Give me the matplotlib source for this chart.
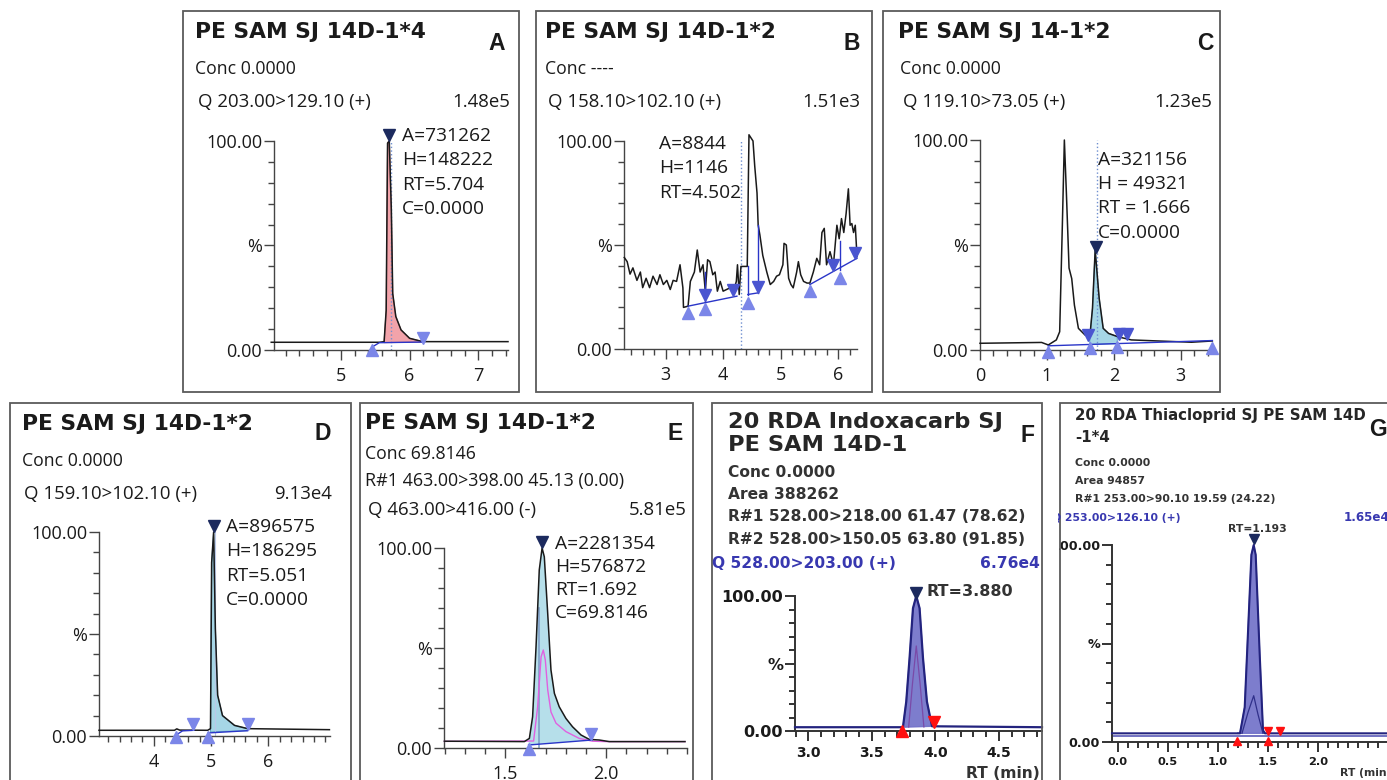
import numpy as np
import matplotlib
matplotlib.use("Agg")
import matplotlib.pyplot as plt
from matplotlib.patches import Rectangle
from matplotlib.transforms import Bbox, TransformedBbox

# ---------------- data ----------------
# Panel A
a_rt = [3.99, 5.56, 5.63, 5.66, 5.68, 5.705, 5.735, 5.755, 5.80, 5.876, 6.0, 6.19, 7.43]
a_pct = [3.7, 3.7, 4.0, 19, 99, 100, 67, 27, 16, 9.6, 5.6, 4.0, 4.0]
a_base_rt = [5.46, 5.56, 6.19]
a_base_pct = [1.5, 3.5, 3.8]
a_up = ([5.46], [0.0])
a_down = ([6.19], [5.6])
a_apex = ([5.705], [103])
a_rtline = 5.735
a_fill = (5.63, 6.19)

# Panel B
b_rt = [2.28, 2.33, 2.38, 2.43, 2.50, 2.56, 2.60, 2.66, 2.72, 2.78, 2.85, 2.90, 2.96, 3.02, 3.08, 3.13,
        3.19, 3.25, 3.30, 3.31, 3.39, 3.43, 3.50, 3.55, 3.60, 3.65, 3.69, 3.73, 3.77, 3.82, 3.86, 3.90,
        3.95, 4.00, 4.06, 4.12, 4.18, 4.23, 4.25, 4.28, 4.31, 4.42, 4.45, 4.52, 4.55, 4.59, 4.61, 4.64,
        4.69, 4.76, 4.82, 4.88, 4.93, 4.98, 5.04, 5.06, 5.10, 5.14, 5.18, 5.22, 5.28, 5.31, 5.35, 5.40,
        5.46, 5.51, 5.57, 5.63, 5.68, 5.72, 5.76, 5.80, 5.86, 5.92, 5.98, 6.02, 6.06, 6.10, 6.14, 6.18,
        6.21, 6.24, 6.27, 6.30, 6.33]
b_pct = [44, 42, 36, 39, 33, 37, 29.5, 34, 29.5, 35, 31, 35.7, 31, 33, 28.6, 33,
         32.5, 40.5, 29.4, 20, 20.6, 32.5, 37, 47.6, 37, 40.5, 27.8, 42.9, 42, 35.7, 37, 27.8,
         32.5, 27.8, 28.6, 29.4, 27.8, 32.5, 40.5, 26.2, 39.7, 39.7, 103, 100, 88, 75, 59.5, 54.8,
         45, 37, 31, 32.5, 35, 35.7, 40.5, 50.8, 50, 34, 31, 29.4, 37, 42, 35.7, 32.5,
         31.7, 31.7, 37, 43.6, 40.5, 56, 58, 40.5, 46.8, 40.5, 59.5, 53, 62.7, 56, 65, 77,
         59.5, 60.3, 56, 59.5, 44.4]
b_base_segs = [([3.39, 4.24], [20.6, 25.4]), ([4.43, 4.61], [26.2, 27.0]), ([5.51, 6.33], [31.0, 43.6])]
b_drops = [(3.69, 22.5, 37.0), (4.43, 26.2, 40.0), (4.61, 27.0, 59.5), (6.03, 38.0, 52.0)]
b_up = ([3.39, 3.69, 4.43, 5.51, 6.03], [17.5, 19, 22, 28, 34])
b_down = ([3.69, 4.18, 4.61, 5.92, 6.30], [26, 28.5, 30, 40.5, 46])
b_rtline = 4.31

# Panel C
c_rt = [0.0, 0.92, 1.02, 1.14, 1.19, 1.23, 1.26, 1.29, 1.33, 1.37, 1.41, 1.47, 1.57, 1.64, 1.68,
        1.72, 1.78, 1.84, 1.92, 2.06, 2.26, 2.66, 3.16, 3.47]
c_pct = [3.2, 3.6, 2.4, 4.8, 8.7, 59.5, 100, 75, 39, 34, 21.4, 10.3, 7.1, 6.3, 19.8,
         47.6, 24.6, 10.3, 7.9, 6.3, 4.8, 4.3, 3.7, 4.3]
c_base_rt = [1.02, 3.47]
c_base_pct = [2.0, 4.5]
c_up = ([1.02, 1.64, 2.05, 3.47], [-1, 1, 1.5, 1])
c_down = ([1.62, 2.07, 2.19], [7, 7.5, 7.5])
c_apex = ([1.73], [49])
c_rtline = 1.745
c_fill = (1.64, 2.05)

# Panel D
d_rt = [3.04, 4.36, 4.40, 4.45, 4.94, 4.99, 5.01, 5.045, 5.075, 5.115, 5.20, 5.41, 5.64, 7.07]
d_pct = [2.8, 2.8, 3.5, 2.9, 2.8, 3.6, 85, 100, 52.6, 20, 10, 5.2, 3.6, 3.1]
d_base_segs = [([4.39, 4.50, 4.70], [0.5, 2.5, 2.8]), ([4.95, 5.64], [1.5, 2.6])]
d_up = ([4.39, 4.95], [-0.5, -0.5])
d_down = ([4.68, 5.64], [6, 6])
d_apex = ([5.045], [103])
d_rtline = 5.07
d_fill = (4.99, 5.64)

# Panel E
e_rt = [1.198, 1.594, 1.619, 1.635, 1.652, 1.668, 1.682, 1.693, 1.71, 1.726, 1.743, 1.767, 1.80,
        1.833, 1.875, 1.916, 1.965, 2.015, 2.16, 2.39]
e_pct = [3.4, 3.2, 4.8, 15.6, 50.6, 89, 100, 95.6, 67, 39, 27.3, 20.6, 14.8, 10.6, 6.5, 4.3, 4.0,
         3.2, 3.2, 3.2]
em_rt = [1.198, 1.64, 1.66, 1.677, 1.688, 1.698, 1.71, 1.726, 1.751, 1.80, 1.866, 1.932, 2.0, 2.39]
em_pct = [3.3, 3.5, 20.6, 45.6, 49, 44, 29, 18, 12.4, 8.2, 4.8, 3.4, 3.2, 3.2]
e_base_rt = [1.615, 1.93]
e_base_pct = [1.5, 4.0]
e_up = ([1.615], [-0.5])
e_down = ([1.924], [7])
e_apex = ([1.683], [103])
e_rtline = 1.668
e_fill = (1.615, 1.93)

# Panel F
f_rt = [2.895, 3.745, 3.771, 3.797, 3.824, 3.85, 3.876, 3.903, 3.934, 3.974, 4.84]
f_pct = [2.8, 2.8, 21.7, 53.8, 90.9, 100, 90.9, 53.8, 21.7, 3.5, 2.8]
fi_rt = [3.79, 3.82, 3.85, 3.88, 3.91]
fi_pct = [3, 35, 63, 35, 3]
f_up = ([3.737], [0.3])
f_down = ([3.99], [6.5])
f_apex = ([3.85], [102])

# Panel G
g_rt = [-0.06, 1.19, 1.22, 1.267, 1.334, 1.357, 1.377, 1.417, 1.45, 1.47, 2.9]
g_pct = [4.4, 4.4, 4.4, 17.6, 95, 100, 95, 44.5, 5.9, 4.4, 4.4]
g_base2 = ([-0.06, 2.9], [3.0, 3.0])
gi_rt = [1.24, 1.30, 1.357, 1.40, 1.45]
gi_pct = [4.4, 15, 23.5, 14, 4.4]
g_up = ([1.185, 1.495], [0.5, 0.5])
g_down = ([1.495, 1.62], [5.5, 5.5])
g_apex = ([1.357], [103])

# ---------------- figure ----------------
W, H = 1387, 780
fig = plt.figure(figsize=(W / 100, H / 100), dpi=100)
fig.patch.set_facecolor("white")

TXT = "#1a1a1a"
OS = "Open Sans"
DV = "DejaVu Sans"
LIGHT = "#7b86e8"
MIDB = "#4a55d0"
NAVY = "#1c2a5e"
BASE = "#2a35c8"
LBFILL = "#a6d6e6"


def clipbox(x0, y0, x1, y1):
    bb = Bbox([[x0 / W, 1 - y1 / H], [x1 / W, 1 - y0 / H]])
    return TransformedBbox(bb, fig.transFigure)


def T(x, y, s, size, weight="normal", ha="left", color=TXT, family=OS, clip=None):
    t = fig.text(x / W, 1 - (y + 0.5 * size) / H, s, fontsize=size, fontweight=weight,
                 ha=ha, va="baseline", color=color, family=family)
    if clip is not None:
        t.set_clip_box(clipbox(*clip))
        t.set_clip_on(True)
    return t


def box(l, t, r, b):
    fig.add_artist(Rectangle((l / W, 1 - b / H), (r - l) / W, (b - t) / H, transform=fig.transFigure,
                             fill=False, ec="#5a5a5a", lw=1.3))


def make_axes(pl, pr, py0, py100, xlim, major, minor, xlabels, xfont, yfont, xpad=5, ypad=1.5,
              tw=1.0, tc="#444444"):
    ax = fig.add_axes([pl / W, 1 - py0 / H, (pr - pl) / W, (py0 - py100) / H])
    ax.set_xlim(*xlim)
    ax.set_ylim(0, 100)
    ax.patch.set_alpha(0)
    for s in ("top", "right"):
        ax.spines[s].set_visible(False)
    for s in ("left", "bottom"):
        ax.spines[s].set_color(tc)
        ax.spines[s].set_linewidth(tw)
    ax.set_xticks(major)
    ax.set_xticklabels(xlabels, **xfont)
    ax.set_xticks(minor, minor=True)
    ax.set_yticks([0, 50, 100])
    ax.set_yticklabels(["0.00", "%", "100.00"], **yfont)
    ax.set_yticks(np.arange(10, 100, 10), minor=True)
    ax.tick_params(axis="x", which="major", length=7, width=tw, color=tc, pad=xpad, labelcolor=TXT)
    ax.tick_params(axis="x", which="minor", length=4, width=tw, color=tc)
    ax.tick_params(axis="y", which="major", length=7, width=tw, color=tc, pad=ypad, labelcolor=TXT)
    ax.tick_params(axis="y", which="minor", length=4, width=tw, color=tc)
    return ax


def mk(ax, pts, marker, color, ms=9):
    ax.plot(pts[0], pts[1], marker=marker, ls="none", ms=ms, color=color, mec=color, clip_on=False,
            zorder=6)


def trace(ax, x, y, color, lw, z=3):
    ax.plot(x, y, color=color, lw=lw, zorder=z, clip_on=False)


def peak_fill(ax, rt, pct, rng, base_rt, base_pct, color, ec=None):
    rt = np.asarray(rt)
    pct = np.asarray(pct)
    m = (rt >= rng[0]) & (rt <= rng[1])
    xs = np.concatenate([[rng[0]], rt[m], [rng[1]]])
    ys = np.concatenate([[np.interp(rng[0], rt, pct)], pct[m], [np.interp(rng[1], rt, pct)]])
    bx = [rng[1], rng[0]]
    by = [np.interp(rng[1], base_rt, base_pct), np.interp(rng[0], base_rt, base_pct)]
    ax.fill(np.concatenate([xs, bx]), np.concatenate([ys, by]), color=color, ec=ec, lw=0.8,
            zorder=1, clip_on=False)


fxA = dict(family=OS, fontsize=13)
fyA = dict(family=OS, fontsize=13)
TS = 15.7      # panel title size
IS = 12.7      # info line size
QS = 13.4      # Q line size
NS = 13.8      # annotation size
LS = 16.5      # panel letter size

# ---------------- Panel A ----------------
box(183, 11, 519, 392)
T(195, 30, "PE SAM SJ 14D-1*4", TS, "bold", family=DV)
T(497, 42, "A", LS, "bold", ha="center", family="Liberation Sans")
T(195, 68, "Conc 0.0000", IS)
T(198, 100, "Q 203.00>129.10 (+)", QS)
T(510, 100, "1.48e5", QS, ha="right")
for i, s in enumerate(["A=731262", "H=148222", "RT=5.704", "C=0.0000"]):
    T(402, 134 + 24.5 * i, s, NS)
ax = make_axes(274, 508, 350, 141, (4.03, 7.43), [5, 6, 7], np.arange(4.2, 7.45, 0.2),
               ["5", "6", "7"], fxA, fyA)
peak_fill(ax, a_rt, a_pct, a_fill, a_base_rt, a_base_pct, "#f2a3aa", ec="#d07078")
ax.plot([a_rtline, a_rtline], [0, 100], ls=":", color="#6f8fd0", lw=1.0, zorder=2)
trace(ax, a_rt, a_pct, "#1a1a1a", 1.1)
trace(ax, a_base_rt, a_base_pct, BASE, 1.0, 4)
mk(ax, a_up, "^", LIGHT)
mk(ax, a_down, "v", LIGHT)
mk(ax, a_apex, "v", NAVY)

# ---------------- Panel B ----------------
box(536, 11, 872, 392)
T(545, 30, "PE SAM SJ 14D-1*2", TS, "bold", family=DV)
T(852, 42, "B", LS, "bold", ha="center", family="Liberation Sans")
T(545, 68, "Conc ----", IS)
T(548, 100, "Q 158.10>102.10 (+)", QS)
T(860, 100, "1.51e3", QS, ha="right")
for i, s in enumerate(["A=8844", "H=1146", "RT=4.502"]):
    T(659, 142 + 24.5 * i, s, NS)
ax = make_axes(624, 857, 349, 141, (2.275, 6.33), [3, 4, 5, 6], np.arange(2.4, 6.35, 0.2),
               ["3", "4", "5", "6"], fxA, fyA)
ax.plot([b_rtline, b_rtline], [0, 100], ls=":", color="#6f8fd0", lw=1.0, zorder=2)
trace(ax, b_rt, b_pct, "#1a1a1a", 1.1)
for sx, sy in b_base_segs:
    trace(ax, sx, sy, BASE, 1.0, 4)
for x0, y0, y1 in b_drops:
    trace(ax, [x0, x0], [y0, y1], BASE, 1.0, 4)
mk(ax, b_up, "^", LIGHT)
mk(ax, b_down, "v", MIDB)

# ---------------- Panel C ----------------
box(883, 11, 1220, 392)
T(898, 30, "PE SAM SJ 14-1*2", TS, "bold", family=DV)
T(1205, 42, "C", LS, "bold", ha="center", family="Liberation Sans")
T(900, 68, "Conc 0.0000", IS)
T(903, 100, "Q 119.10>73.05 (+)", QS)
T(1212, 100, "1.23e5", QS, ha="right")
for i, s in enumerate(["A=321156", "H = 49321", "RT = 1.666", "C=0.0000"]):
    T(1098, 158 + 24.2 * i, s, NS)
ax = make_axes(980, 1213, 350, 140, (0.0, 3.48), [0, 1, 2, 3], np.arange(0.2, 3.45, 0.2),
               ["0", "1", "2", "3"], fxA, fyA)
peak_fill(ax, c_rt, c_pct, c_fill, c_base_rt, c_base_pct, LBFILL, ec="#6aaac8")
ax.plot([c_rtline, c_rtline], [0, 100], ls=":", color="#6f8fd0", lw=1.0, zorder=2)
trace(ax, c_rt, c_pct, "#1a1a1a", 1.1)
trace(ax, c_base_rt, c_base_pct, BASE, 1.0, 4)
mk(ax, c_up, "^", LIGHT)
mk(ax, c_down, "v", MIDB)
mk(ax, c_apex, "v", NAVY)

# ---------------- Panel D ----------------
box(10, 403, 351, 790)
T(22, 422, "PE SAM SJ 14D-1*2", TS, "bold", family=DV)
T(323, 432, "D", LS, "bold", ha="center", family="Liberation Sans")
T(22, 460, "Conc 0.0000", IS)
T(24, 492, "Q 159.10>102.10 (+)", QS)
T(332, 492, "9.13e4", QS, ha="right")
for i, s in enumerate(["A=896575", "H=186295", "RT=5.051", "C=0.0000"]):
    T(226, 525 + 24.5 * i, s, NS)
ax = make_axes(99, 330, 736, 532, (3.04, 7.08), [4, 5, 6], np.arange(3.2, 7.05, 0.2),
               ["4", "5", "6"], fxA, fyA)
peak_fill(ax, d_rt, d_pct, d_fill, [4.95, 5.64], [2.0, 2.6], LBFILL, ec="#6aaac8")
ax.plot([d_rtline, d_rtline], [0, 100], ls="-", color="#b9c8e8", lw=0.8, zorder=2)
trace(ax, d_rt, d_pct, "#1a1a1a", 1.1)
for sx, sy in d_base_segs:
    trace(ax, sx, sy, BASE, 1.0, 4)
mk(ax, d_up, "^", LIGHT)
mk(ax, d_down, "v", LIGHT)
mk(ax, d_apex, "v", NAVY)

# ---------------- Panel E ----------------
box(360, 403, 693, 790)
T(365, 421, "PE SAM SJ 14D-1*2", TS, "bold", family=DV)
T(675, 432, "E", LS, "bold", ha="center", family="Liberation Sans")
T(365, 453, "Conc 69.8146", IS)
T(365, 480, "R#1 463.00>398.00 45.13 (0.00)", 12.9)
T(368, 508, "Q 463.00>416.00 (-)", QS)
T(687, 508, "5.81e5", QS, ha="right")
for i, s in enumerate(["A=2281354", "H=576872", "RT=1.692", "C=69.8146"]):
    T(555, 542 + 23 * i, s, NS)
ax = make_axes(444, 687, 748, 548, (1.196, 2.396), [1.5, 2.0], np.arange(1.2, 2.45, 0.1),
               ["1.5", "2.0"], fxA, fyA)
peak_fill(ax, e_rt, e_pct, e_fill, e_base_rt, e_base_pct, "#b6dfea", ec=None)
ax.plot([e_rtline, e_rtline], [0, 70], ls="-", color="#7f9fc8", lw=1.2, zorder=2)
trace(ax, em_rt, em_pct, "#e060e0", 1.0)
trace(ax, e_rt, e_pct, "#1a1a1a", 1.1)
trace(ax, e_base_rt, e_base_pct, BASE, 1.0, 4)
mk(ax, e_up, "^", LIGHT)
mk(ax, e_down, "v", LIGHT)
mk(ax, e_apex, "v", NAVY)

# ---------------- Panel F ----------------
box(712, 403, 1042, 790)
FT = "#262626"
T(728, 420, "20 RDA Indoxacarb SJ", 16.2, "bold", color=FT, family=DV)
T(728, 443, "PE SAM 14D-1", 16.2, "bold", color=FT, family=DV)
T(1027, 434, "F", LS, "bold", ha="center", family="Liberation Sans")
T(728, 471, "Conc 0.0000", 11.2, "bold", color="#333333", family=DV)
T(728, 493, "Area 388262", 11.2, "bold", color="#333333", family=DV)
T(728, 515, "R#1 528.00>218.00 61.47 (78.62)", 11.2, "bold", color="#333333", family=DV)
T(728, 538, "R#2 528.00>150.05 63.80 (91.85)", 11.2, "bold", color="#333333", family=DV)
T(712, 562, "Q 528.00>203.00 (+)", 11.2, "bold", color="#3838b0", family=DV)
T(1040, 562, "6.76e4", 11.2, "bold", ha="right", color="#3838b0", family=DV)
T(927, 590, "RT=3.880", 11.5, "bold", color="#333333", family=DV)
T(1040, 772, "RT (min)", 11.2, "bold", ha="right", color="#333333", family=DV)
fxF = dict(family=DV, fontsize=10, fontweight="bold")
fyF = dict(family=DV, fontsize=11.5, fontweight="bold")
ax = make_axes(795, 1042, 731, 596, (2.895, 4.84), [3.0, 3.5, 4.0, 4.5], np.arange(2.9, 4.85, 0.1),
               ["3.0", "3.5", "4.0", "4.5"], fxF, fyF, xpad=4, tw=1.4, tc="#333333")
ax.fill(f_rt[1:-1], f_pct[1:-1], color="#6f6fc8", alpha=0.9, zorder=1, clip_on=False)
trace(ax, f_rt, f_pct, "#23237e", 1.6)
trace(ax, fi_rt, fi_pct, "#7a4aa8", 0.9)
mk(ax, f_up, "^", "#ff1010", ms=8)
mk(ax, f_down, "v", "#ff1010", ms=8)
mk(ax, f_apex, "v", NAVY, ms=9)

# ---------------- Panel G ----------------
box(1060, 403, 1420, 790)
T(1075, 415, "20 RDA Thiacloprid SJ PE SAM 14D", 10.8, "bold", color=FT, family=DV)
T(1075, 437, "-1*4", 10.8, "bold", color=FT, family=DV)
T(1378, 428, "G", LS, "bold", ha="center", family="Liberation Sans")
T(1075, 462, "Conc 0.0000", 7.8, "bold", color="#333333", family=DV)
T(1075, 480, "Area 94857", 7.8, "bold", color="#333333", family=DV)
T(1075, 498, "R#1 253.00>90.10 19.59 (24.22)", 7.8, "bold", color="#333333", family=DV)
T(1052, 517, "Q 253.00>126.10 (+)", 7.8, "bold", color="#3838b0", family=DV,
  clip=(1058, 500, 1387, 530))
T(1344, 517, "1.65e4", 8.6, "bold", color="#3838b0", family=DV)
T(1257, 528, "RT=1.193", 7.8, "bold", ha="center", color="#333333", family=DV)
T(1340, 772, "RT (min)", 7.8, "bold", color="#333333", family=DV)
fxG = dict(family=DV, fontsize=8.2, fontweight="bold")
fyG = dict(family=DV, fontsize=9.2, fontweight="bold")
ax = make_axes(1112, 1408, 742, 545, (-0.06, 2.9), [0.0, 0.5, 1.0, 1.5, 2.0],
               np.arange(0.0, 2.9, 0.1), ["0.0", "0.5", "1.0", "1.5", "2.0"], fxG, fyG,
               xpad=4, tw=1.4, tc="#333333")
for lab in ax.get_yticklabels():
    lab.set_clip_box(clipbox(1059, 500, 1387, 780))
    lab.set_clip_on(True)
ax.fill(g_rt[1:-1], g_pct[1:-1], color="#6f6fc8", alpha=0.9, zorder=1, clip_on=False)
trace(ax, g_base2[0], g_base2[1], "#5a5ab8", 1.2, 2)
trace(ax, g_rt, g_pct, "#23237e", 1.5)
trace(ax, gi_rt, gi_pct, "#30308a", 0.9)
mk(ax, g_up, "^", "#ff1010", ms=6)
mk(ax, g_down, "v", "#ff1010", ms=6)
mk(ax, g_apex, "v", NAVY, ms=7)

fig.savefig("out.png", dpi=100, facecolor="white")
